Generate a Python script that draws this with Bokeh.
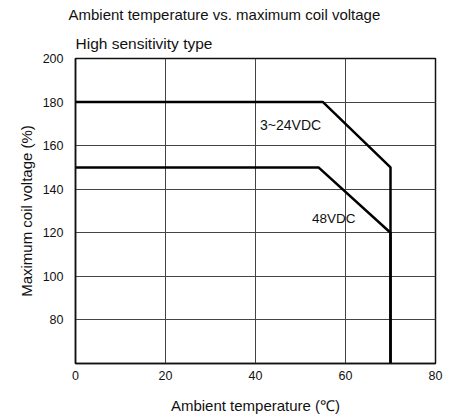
from bokeh.plotting import figure
from bokeh.models import Range1d, FixedTicker, Label, Title
from bokeh.embed import file_html
from bokeh.resources import INLINE

# data
temp_a = [0, 55, 70, 70]
volt_a = [180, 180, 150, 60]
temp_b = [0, 54, 70, 70]
volt_b = [150, 150, 120, 60]
x_ticks = [0, 20, 40, 60, 80]
y_ticks = [80, 100, 120, 140, 160, 180, 200]
label_a = "3~24VDC"
label_b = "48VDC"
title_text = "Ambient temperature vs. maximum coil voltage"
subtitle_text = "High sensitivity type"

FONT = "Liberation Sans"

p = figure(width=453, height=419, output_backend="svg", toolbar_location=None,
           x_range=Range1d(0, 80), y_range=Range1d(60, 200),
           min_border_left=75, min_border_right=18, min_border_top=0, min_border_bottom=56)
p.background_fill_color = "white"
p.border_fill_color = "white"
p.outline_line_color = "#111111"
p.outline_line_width = 1.5

p.add_layout(Title(text=subtitle_text, align="left", offset=0, standoff=13,
                   text_font=FONT, text_font_size="15.5px", text_font_style="normal",
                   text_color="#111111"), "above")
p.add_layout(Title(text=title_text, align="left", offset=-7, standoff=7,
                   text_font=FONT, text_font_size="15px", text_font_style="normal",
                   text_color="#111111"), "above")

for ax in (p.xaxis[0], p.yaxis[0]):
    ax.major_tick_line_color = None
    ax.minor_tick_line_color = None
    ax.major_tick_out = 0
    ax.major_tick_in = 0
    ax.minor_tick_out = 0
    ax.minor_tick_in = 0
    ax.axis_line_color = "#111111"
    ax.axis_line_width = 1.5
    ax.major_label_text_font = FONT
    ax.major_label_text_font_size = "12.5px"
    ax.major_label_text_color = "#111111"
    ax.major_label_text_line_height = 0.9
    ax.axis_label_text_font = FONT
    ax.axis_label_text_font_size = "15px"
    ax.axis_label_text_font_style = "normal"
    ax.axis_label_text_color = "#111111"
    ax.axis_label_text_line_height = 0.9

p.xaxis[0].ticker = FixedTicker(ticks=x_ticks)
p.yaxis[0].ticker = FixedTicker(ticks=y_ticks)
p.xaxis[0].major_label_standoff = 7
p.yaxis[0].major_label_standoff = 12
p.xaxis[0].axis_label = "Ambient temperature (\u2103)"
p.yaxis[0].axis_label = "Maximum coil voltage (%)"
p.xaxis[0].axis_label_standoff = 14
p.yaxis[0].axis_label_standoff = 5

p.xgrid[0].ticker = FixedTicker(ticks=x_ticks)
p.ygrid[0].ticker = FixedTicker(ticks=y_ticks)
for g in (p.xgrid[0], p.ygrid[0]):
    g.grid_line_color = "#444444"
    g.grid_line_width = 1
    g.grid_line_alpha = 1

p.line(temp_a, volt_a, line_color="black", line_width=2.5)
p.line(temp_b, volt_b, line_color="black", line_width=2.5)

p.add_layout(Label(x=47.8, y=169.5, text=label_a, text_align="center", text_baseline="middle",
                   text_font=FONT, text_font_size="14px", text_color="#111111"))
p.add_layout(Label(x=57.4, y=126.7, text=label_b, text_align="center", text_baseline="middle",
                   text_font=FONT, text_font_size="13.5px", text_color="#111111"))

open("out.html", "w").write(file_html(p, INLINE))
